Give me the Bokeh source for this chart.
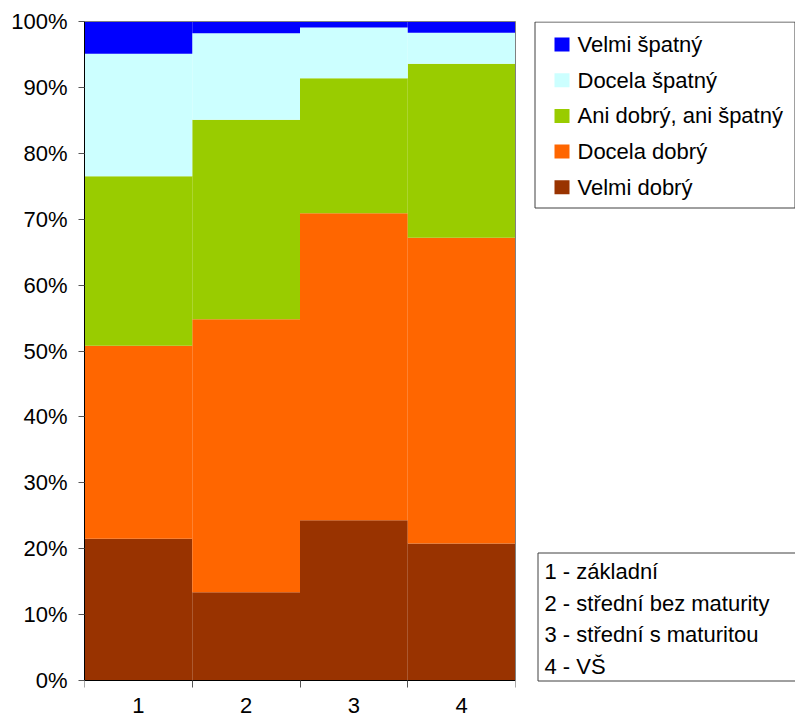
from bokeh.plotting import figure
from bokeh.layouts import row
from bokeh.models import Range1d, FixedTicker, NumeralTickFormatter, LinearAxis
from bokeh.core.properties import value
from bokeh.embed import file_html
from bokeh.resources import INLINE

# Education groups (x axis) and their explanations
groups = [1, 2, 3, 4]
group_names = ["1 - základní", "2 - střední bez maturity", "3 - střední s maturitou", "4 - VŠ"]

# Shares of answers per group (fractions, stacked bottom to top)
velmi_dobry = [0.215, 0.134, 0.243, 0.208]
docela_dobry = [0.293, 0.414, 0.466, 0.464]
ani_ani = [0.257, 0.303, 0.205, 0.264]
docela_spatny = [0.186, 0.131, 0.077, 0.047]
velmi_spatny = [0.049, 0.018, 0.009, 0.017]

series = ["Velmi dobrý", "Docela dobrý", "Ani dobrý, ani špatný", "Docela špatný", "Velmi špatný"]
colors = ["#993300", "#FF6600", "#99CC00", "#CCFFFF", "#0000FF"]
y_ticks = [0, 0.1, 0.2, 0.3, 0.4, 0.5, 0.6, 0.7, 0.8, 0.9, 1.0]

FONT = "Liberation Sans"
FS = "22px"
BOX = "#404040"
TICK = "#555555"

data = {
    "x": groups,
    series[0]: velmi_dobry,
    series[1]: docela_dobry,
    series[2]: ani_ani,
    series[3]: docela_spatny,
    series[4]: velmi_spatny,
}

# ---- main stacked chart ----
# frame: x 84..515, y 21..718 px; value 0 sits 38 px above the bottom, 1 at the top
PLOT_H = 659
p = figure(width=520, height=718, output_backend="svg", toolbar_location=None,
           x_range=Range1d(0.5, 4.5), y_range=Range1d(-38 / PLOT_H, 1),
           x_axis_location=None, y_axis_location=None,
           min_border_left=84, min_border_right=5, min_border_top=21, min_border_bottom=0)
p.background_fill_color = "white"
p.border_fill_color = "white"
p.outline_line_color = None
p.grid.visible = False

p.vbar_stack(series, x="x", width=1.0, source=data, color=colors, line_width=0)

# y axis
yax = LinearAxis(ticker=FixedTicker(ticks=y_ticks), formatter=NumeralTickFormatter(format="0%"),
                 bounds=(0, 1))
yax.major_label_text_font = FONT
yax.major_label_text_font_size = FS
yax.major_label_text_color = "black"
yax.major_tick_out = 6
yax.major_tick_in = 0
yax.minor_tick_line_color = None
yax.major_label_standoff = 11
yax.axis_line_color = "black"
yax.major_tick_line_color = TICK
p.add_layout(yax, "left")

# x axis pinned at 0: labels at group centres, tick marks on the group boundaries
xax = LinearAxis(ticker=FixedTicker(ticks=groups, minor_ticks=[0.5, 1.5, 2.5, 3.5, 4.5]),
                 fixed_location=0)
xax.major_tick_line_color = None
xax.major_tick_out = 7
xax.major_tick_in = 0
xax.minor_tick_out = 7
xax.minor_tick_in = 0
xax.minor_tick_line_color = TICK
xax.major_label_text_font = FONT
xax.major_label_text_font_size = FS
xax.major_label_text_color = "black"
xax.major_label_standoff = 10
xax.axis_line_color = "black"
p.add_layout(xax, "below")

# grey frame lines on top and right of the plot area
top_ax = LinearAxis(ticker=FixedTicker(ticks=[]), axis_line_color="#808080",
                    major_label_standoff=0, major_tick_out=0, minor_tick_out=0)
p.add_layout(top_ax, "above")
right_ax = LinearAxis(ticker=FixedTicker(ticks=[]), axis_line_color="#808080", bounds=(0, 1),
                      major_label_standoff=0, major_tick_out=0, minor_tick_out=0)
p.add_layout(right_ax, "right")

# ---- side panel with the two legends (coordinates in pixels, y downwards) ----
q = figure(width=275, height=718, output_backend="svg", toolbar_location=None,
           x_range=Range1d(520, 795), y_range=Range1d(718, 21),
           min_border_left=0, min_border_right=0, min_border_top=21, min_border_bottom=0,
           x_axis_location=None, y_axis_location=None)
q.outline_line_color = None
q.grid.visible = False
q.background_fill_color = "white"
q.border_fill_color = "white"

# answer legend, top entry is the top of the stack
order = list(range(len(series)))[::-1]
row_y = [44 + 35.7 * k for k in range(len(series))]
q.quad(left=[534.5], right=[794.5], top=[21.5], bottom=[207.5],
       fill_alpha=0, line_color=BOX, line_width=1)
q.rect(x=[561.5] * len(series), y=row_y, width=15, height=14,
       fill_color=[colors[i] for i in order], line_color=None)
q.text(x=[577] * len(series), y=row_y, text=[series[i] for i in order],
       text_font=value(FONT), text_font_size=FS, text_baseline="middle",
       text_color="black")

# education key
key_y = [571 + 31.5 * k for k in range(len(group_names))]
q.quad(left=[537.5], right=[796], top=[552.5], bottom=[680.5],
       fill_alpha=0, line_color=BOX, line_width=1)
q.text(x=[544] * len(group_names), y=key_y, text=group_names,
       text_font=value(FONT), text_font_size=FS, text_baseline="middle",
       text_color="black")

layout = row(p, q, spacing=0)
open("out.html", "w").write(file_html(layout, INLINE))
